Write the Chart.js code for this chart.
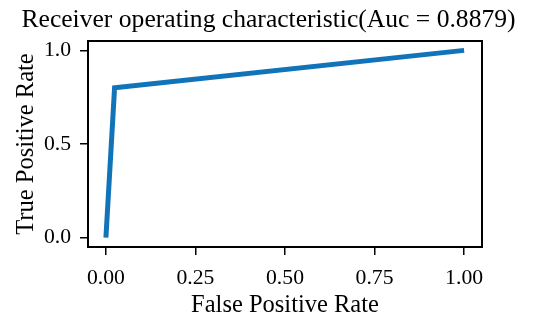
<!DOCTYPE html>
<html lang="en">
<head>
    <meta charset="UTF-8">
    <title>ROC</title>
    <script src="https://cdn.jsdelivr.net/npm/chart.js"></script>
    <style>
        body { margin: 0; background: #fff; }
        #wrap { width: 550px; height: 323px; position: relative; }
    </style>
</head>
<body>
    <div id="wrap"><canvas id="roc"></canvas></div>

    <script>
        // ROC points
        const fpr = [0, 0.0242, 1];
        const tpr = [0, 0.8, 1];
        const xTicks = [0, 0.25, 0.5, 0.75, 1];
        const yTicks = [0, 0.5, 1];
        const auc = 0.8879;

        const serif = "'Liberation Serif', 'Times New Roman', serif";
        const titleText = 'Receiver operating characteristic(Auc = ' + auc + ')';

        // box round the plot area + title (matplotlib centres it a bit left of the axes)
        const frame = {
            id: 'frame',
            afterDraw(chart) {
                const a = chart.chartArea;
                const ctx = chart.ctx;
                ctx.save();
                ctx.strokeStyle = '#000';
                ctx.lineWidth = 2;
                ctx.strokeRect(a.left, a.top, a.right - a.left, a.bottom - a.top);
                ctx.fillStyle = '#000';
                ctx.font = '25.6px ' + serif;
                ctx.textAlign = 'center';
                ctx.textBaseline = 'alphabetic';
                ctx.fillText(titleText, 268.5, 27);
                ctx.restore();
            }
        };

        new Chart(document.getElementById('roc'), {
            type: 'scatter',
            data: {
                datasets: [{
                    data: fpr.map((x, i) => ({ x: x, y: tpr[i] })),
                    showLine: true,
                    borderColor: '#1174b9',
                    borderWidth: 5,
                    pointRadius: 0,
                    borderCapStyle: 'butt',
                    borderJoinStyle: 'miter'
                }]
            },
            options: {
                responsive: true,
                maintainAspectRatio: false,
                animation: false,
                layout: { padding: { top: 41, right: 68, bottom: 0, left: 0 } },
                plugins: {
                    legend: { display: false },
                    tooltip: { enabled: false },
                    title: { display: false }
                },
                scales: {
                    x: {
                        type: 'linear',
                        min: -0.05,
                        max: 1.05,
                        afterBuildTicks: s => { s.ticks = xTicks.map(v => ({ value: v })); },
                        afterFit: s => { s.height = 76; },
                        border: { display: false },
                        grid: { drawOnChartArea: false, color: '#000', lineWidth: 1.5, tickLength: 8 },
                        ticks: {
                            color: '#000',
                            padding: 10,
                            maxRotation: 0,
                            font: { family: serif, size: 21.7 },
                            callback: v => v.toFixed(2)
                        },
                        title: {
                            display: true,
                            text: 'False Positive Rate',
                            color: '#000',
                            font: { family: serif, size: 24.5 },
                            padding: { top: 0, bottom: 3 }
                        }
                    },
                    y: {
                        type: 'linear',
                        min: -0.05,
                        max: 1.05,
                        afterBuildTicks: s => { s.ticks = yTicks.map(v => ({ value: v })); },
                        afterFit: s => { s.width = 88; },
                        border: { display: false },
                        grid: { drawOnChartArea: false, color: '#000', lineWidth: 1.5, tickLength: 8 },
                        ticks: {
                            color: '#000',
                            padding: 9,
                            font: { family: serif, size: 21.7 },
                            callback: v => v.toFixed(1)
                        },
                        title: {
                            display: true,
                            text: 'True Positive Rate',
                            color: '#000',
                            font: { family: serif, size: 24.5 },
                            padding: { top: 12, bottom: 0 }
                        }
                    }
                }
            },
            plugins: [frame]
        });
    </script>
</body>
</html>
